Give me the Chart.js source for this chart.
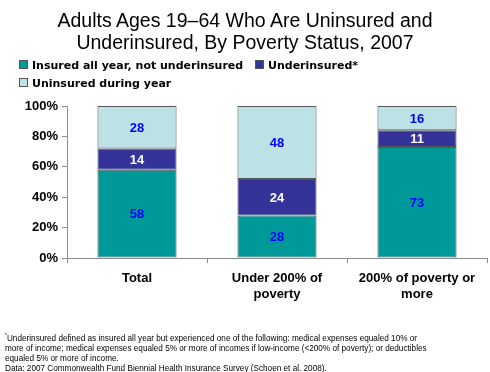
<!DOCTYPE html>
<html>
<head>
<meta charset="utf-8">
<script src="https://cdn.jsdelivr.net/npm/chart.js@4/dist/chart.umd.min.js"></script>
<style>
  html, body { margin: 0; padding: 0; background: #fff; }
  body { width: 490px; height: 372px; position: relative; overflow: hidden; font-family: 'Liberation Sans', Arial, sans-serif; }
  #wrap { position: absolute; left: 0; top: 0; width: 490px; height: 372px; }
  #titulo { position: absolute; left: 0; top: 9px; width: 490px; text-align: center; font-size: 19.5px; line-height: 22px; color: #000; }
  .ley { position: absolute; font-family: 'DejaVu Sans', sans-serif; font-size: 11px; font-weight: bold; color: #000; white-space: nowrap; line-height: 12px; }
  .ley i { display: inline-block; width: 7px; height: 7px; border: 1px solid #555; margin-right: 4px; vertical-align: 0px; }
  #nota { position: absolute; left: 5px; top: 330px; font-size: 8.2px; line-height: 10px; color: #000; white-space: nowrap; }
</style>
</head>
<body>
<div id="wrap"><canvas id="grafico" width="490" height="372"></canvas></div>
<div id="titulo">Adults Ages 19–64 Who Are Uninsured and<br>Underinsured, By Poverty Status, 2007</div>
<div class="ley" style="left:19px;top:60px"><i style="background:#009999"></i>Insured all year, not underinsured</div>
<div class="ley" style="left:255px;top:60px"><i style="background:#333399"></i>Underinsured*</div>
<div class="ley" style="left:19px;top:78px"><i style="background:#BCE2E5"></i>Uninsured during year</div>
<div id="nota"><sup style="font-size:5px">*</sup>Underinsured defined as insured all year but experienced one of the following: medical expenses equaled 10% or<br>more of income; medical expenses equaled 5% or more of incomes if low-income (&lt;200% of poverty); or deductibles<br>equaled 5% or more of income.<br>Data: 2007 Commonwealth Fund Biennial Health Insurance Survey (Schoen et al. 2008).</div>
<script>
(function () {
    'use strict';

    // Categorías y series (en %)
    const categorias = [['Total'], ['Under 200% of', 'poverty'], ['200% of poverty or', 'more']];
    const asegurados = [58, 28, 73];
    const infraasegurados = [14, 24, 11];
    const sinSeguro = [28, 48, 16];
    const ticksY = [0, 20, 40, 60, 80, 100];

    const C = {
        teal: '#009999',
        navy: '#333399',
        light: '#BCE2E5',
        eje: '#8c8c8c',
        borde: '#555555',
    };

    const FUENTE = "'Liberation Sans', Arial, sans-serif";

    // Etiquetas de valor dentro de cada segmento
    const etiquetas = {
        id: 'etiquetas',
        afterDatasetsDraw(chart) {
            const ctx = chart.ctx;
            ctx.save();
            ctx.font = 'bold 13px ' + FUENTE;
            ctx.textAlign = 'center';
            ctx.textBaseline = 'middle';
            chart.data.datasets.forEach((ds, i) => {
                chart.getDatasetMeta(i).data.forEach((bar, j) => {
                    const p = bar.getProps(['x', 'y', 'base'], true);
                    ctx.fillStyle = ds.colorEtiqueta;
                    ctx.fillText(String(ds.data[j]), p.x, (p.y + p.base) / 2 + 1);
                });
            });
            ctx.restore();
        }
    };

    function serie(label, datos, color, colorEtiqueta) {
        return {
            label: label,
            data: datos,
            backgroundColor: color,
            borderColor: C.borde,
            borderWidth: 1,
            borderSkipped: false,
            barPercentage: 0.565,
            categoryPercentage: 1,
            colorEtiqueta: colorEtiqueta,
        };
    }

    new Chart(document.getElementById('grafico'), {
        type: 'bar',
        data: {
            labels: categorias,
            datasets: [
                serie('Insured all year, not underinsured', asegurados, C.teal, '#0000FF'),
                serie('Underinsured*', infraasegurados, C.navy, '#FFFFFF'),
                serie('Uninsured during year', sinSeguro, C.light, '#0000FF'),
            ]
        },
        options: {
            responsive: false,
            animation: false,
            layout: { padding: { top: 106, right: 3, left: 0, bottom: 0 } },
            plugins: {
                legend: { display: false },
                tooltip: { enabled: false },
            },
            scales: {
                x: {
                    stacked: true,
                    grid: { display: true, drawOnChartArea: false, offset: true, tickLength: 5, color: C.eje },
                    border: { color: C.eje, width: 1 },
                    ticks: { color: '#000', font: { family: FUENTE, size: 13, weight: 'bold' }, padding: 8, maxRotation: 0, autoSkip: false },
                    afterFit: s => { s.height = 114; },
                },
                y: {
                    stacked: true,
                    min: 0,
                    max: 100,
                    afterBuildTicks: s => { s.ticks = ticksY.map(v => ({ value: v })); },
                    grid: { display: true, drawOnChartArea: false, tickLength: 5, color: C.eje },
                    border: { color: C.eje, width: 1 },
                    ticks: { color: '#000', font: { family: FUENTE, size: 13, weight: 'bold' }, padding: 4, callback: v => v + '%' },
                    afterFit: s => { s.width = 67; },
                }
            }
        },
        plugins: [etiquetas]
    });
})();
</script>
</body>
</html>
